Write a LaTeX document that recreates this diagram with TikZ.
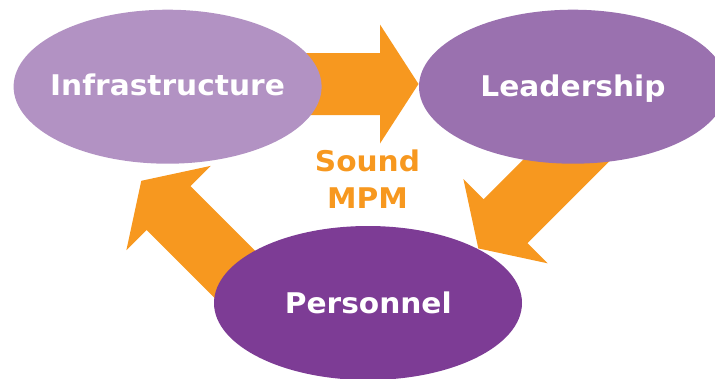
\documentclass[tikz,border=0pt]{standalone}
\usepackage{fontspec}
\setmainfont[FakeStretch=1.04]{DejaVu Sans}
\usetikzlibrary{shapes.geometric,backgrounds}
\definecolor{infracol}{HTML}{B292C3}
\definecolor{leadcol}{HTML}{9A71AF}
\definecolor{perscol}{HTML}{7D3C95}
\definecolor{orangecol}{HTML}{F7981F}
\tikzset{
  blob/.style={ellipse, minimum width=308pt, minimum height=154pt, inner sep=0pt},
  blobtext/.style={text=white, font=\fontsize{28.5}{34}\selectfont\bfseries,
    inner sep=0pt, text height=20.8pt, text depth=0pt},
  fatarrow/.style={fill=orangecol, draw=none},
  midtext/.style={text=orangecol, font=\fontsize{28.5}{36.6}\selectfont\bfseries,
    align=center, inner sep=0pt}
}
\begin{document}
\begin{tikzpicture}[x=1pt,y=-1pt]
\useasboundingbox (0,0) rectangle (715,378);
\node[blob, fill=infracol] (infra) at (167.6,86.7) {};
\node[blob, fill=leadcol] (lead) at (573,86.7) {};
\node[blob, fill=perscol] (pers) at (368,303) {};
\node[blobtext] (infratext) at (167.5,85.5) {Infrastructure};
\node[blobtext] (leadtext) at (573,86.3) {Leadership};
\node[blobtext] (perstext) at (368.3,303.3) {Personnel};
\node[midtext, anchor=base] (sound) at (367.5,171.7) {Sound};
\node[midtext, anchor=base] (mpm) at (367.5,208.3) {MPM};
\begin{scope}[on background layer]
  % Infrastructure -> Leadership
  \fill[fatarrow] (290,53) -- (380,53) -- (380,24.5) -- (418.5,84) -- (380,143.5) -- (380,115) -- (290,115) -- cycle;
  % Leadership -> Personnel
  \fill[fatarrow] (619.3,151.2) -- (527.4,243.1) -- (547.6,263.3) -- (478.3,248.4) -- (463.4,179.1) -- (483.6,199.3) -- (575.5,107.4) -- cycle;
  % Personnel -> Infrastructure
  \fill[fatarrow] (252.7,336) -- (146.6,229.9) -- (126.4,250.1) -- (141.3,180.8) -- (210.6,165.9) -- (190.4,186.1) -- (296.5,292.2) -- cycle;
\end{scope}
\end{tikzpicture}
\end{document}
